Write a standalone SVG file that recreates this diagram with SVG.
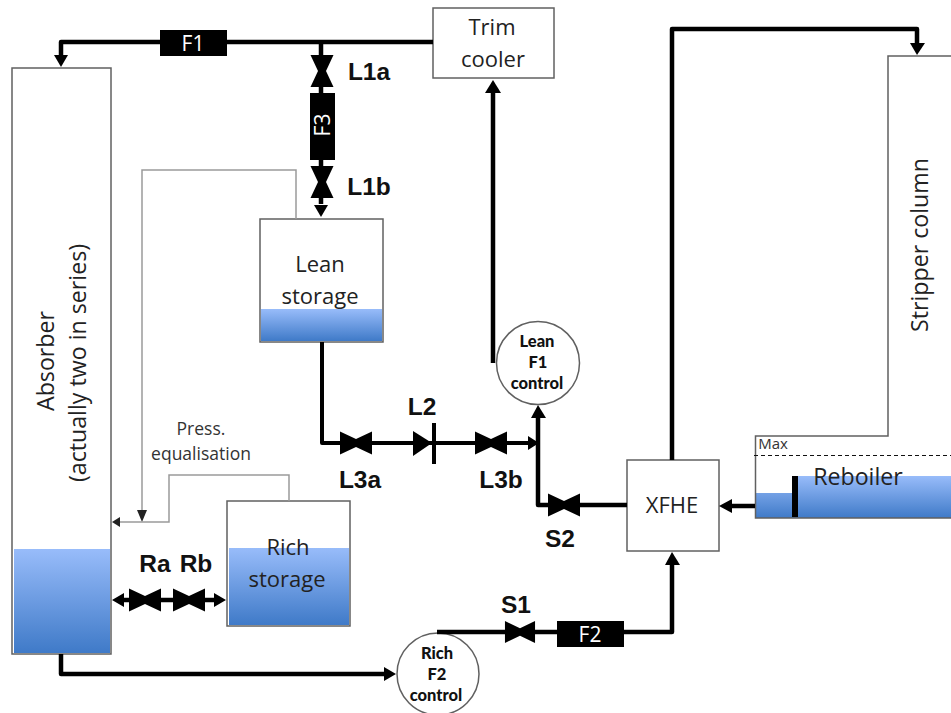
<svg xmlns="http://www.w3.org/2000/svg" width="951" height="713" viewBox="0 0 951 713">
<style>
.box{fill:#fff;stroke:#606060;stroke-width:1.5}
.pipe{fill:none;stroke:#000;stroke-width:4.5;stroke-linejoin:round}
.thin{fill:none;stroke:#9a9a9a;stroke-width:1.5}
.lbl{font-family:"Liberation Sans",Arial,sans-serif;font-weight:700;font-size:24.500px;fill:#111;text-anchor:middle}
.t{font-family:"Open Sans","Noto Sans",sans-serif;font-size:22px;fill:#222;text-anchor:middle}
.r{font-size:23.200px}
.s{font-family:"Open Sans","Noto Sans",sans-serif;font-size:17.500px;fill:#333;text-anchor:middle}
.c{font-family:"Lato","Noto Sans",sans-serif;font-weight:900;font-size:16.500px;fill:#111;text-anchor:middle}
.w{font-family:"Open Sans","Noto Sans",sans-serif;font-size:21px;fill:#fff;text-anchor:middle}
.liq{fill:url(#g)}
</style>
<defs>
<linearGradient id="g" x1="0" y1="0" x2="0" y2="1"><stop offset="0" stop-color="#98bcfa"/><stop offset="1" stop-color="#3f7ac8"/></linearGradient>
<path id="vh" d="M-16-11.500L0-4 16-11.500V11.500L0 4-16 11.500Z" fill="#000"/>
<path id="vv" d="M-11.500-16L-4 0-11.500 16H11.500L4 0 11.500-16Z" fill="#000"/>
</defs>
<g id="absorber"><rect class="box" x="12" y="68" width="99" height="586"/><rect class="liq" x="14" y="549" width="96" height="104"/><text class="t r" transform="translate(54 361) rotate(-90)">Absorber</text><text class="t r" transform="translate(86 363) rotate(-90)">(actually two in series)</text></g>
<g id="trim-cooler"><rect class="box" x="433" y="8" width="121" height="70"/><text class="t" x="492" y="35">Trim</text><text class="t" x="493" y="67">cooler</text></g>
<g id="lean-storage"><rect class="box" x="260" y="219" width="123" height="123"/><rect class="liq" x="261" y="309" width="121" height="32"/><text class="t" x="320" y="272">Lean</text><text class="t" x="320" y="304">storage</text></g>
<g id="rich-storage"><rect class="box" x="227" y="501" width="123" height="125"/><rect class="liq" x="229" y="548" width="120" height="77"/><text class="t" x="288" y="555">Rich</text><text class="t" x="287" y="587">storage</text></g>
<g id="lean-f1-control"><circle class="box" cx="538" cy="363" r="41.500"/><text class="c" x="537" y="347">Lean</text><text class="c" x="538" y="368">F1</text><text class="c" x="537" y="389">control</text></g>
<g id="rich-f2-control"><circle class="box" cx="438" cy="674" r="41"/><text class="c" x="437" y="659">Rich</text><text class="c" x="437" y="680">F2</text><text class="c" x="436" y="701">control</text></g>
<g id="xfhe"><rect class="box" x="627" y="460" width="92" height="91"/><text class="t" x="672" y="513">XFHE</text></g>
<g id="stripper"><path class="liq" d="M756 493H795V518H756ZM795 476H951V518H795Z"/><path fill="none" stroke="#606060" stroke-width="1.500" d="M951 56H888V436H755.500V518H951"/><rect x="792" y="476" width="6" height="41" fill="#000"/><path d="M754 455.500H951" stroke="#111" stroke-width="1" stroke-dasharray="4 3"/><text class="t r" transform="translate(928 245) rotate(-90)">Stripper column</text><text class="t r" x="858" y="485">Reboiler</text><text class="s" x="773" y="449" style="font-size:15px">Max</text></g>
<g id="connectors">
<path class="thin" d="M296 219V170H142V510"/>
<path d="M137 510H147L142 522Z" fill="#222"/>
<path class="thin" d="M289 501V475H169V522H120"/>
<path d="M120 517V527L112 522Z" fill="#222"/>
<path class="pipe" d="M433 42H61V56"/><path d="M54 55H68L61 67Z" fill="#000"/>
<path class="pipe" d="M321 42V204"/><path d="M314 205H328L321 217Z" fill="#000"/>
<path class="pipe" d="M493 363V92"/><path d="M485 93H501L493 80Z" fill="#000"/>
<path class="pipe" d="M322 342V443H530" style="stroke-width:4"/><path d="M528 436V450L539 443Z" fill="#000"/>
<path class="pipe" d="M627 505H538V417"/><path d="M531 418H546L538 405Z" fill="#000"/>
<path class="pipe" d="M672 460V29H917V44"/><path d="M910 43H925L917 55Z" fill="#000"/>
<path class="pipe" d="M755 506H730"/><path d="M732 499V513L719 506Z" fill="#000"/>
<path class="pipe" d="M437 632H672V564"/><path d="M665 565H680L672 552Z" fill="#000"/>
<path class="pipe" d="M61 654V674H386"/><path d="M384 667V681L396 674Z" fill="#000"/>
<path class="pipe" d="M122 600H216"/><path d="M124 593V607L112 600ZM214 593V607L226 600Z" fill="#000"/>
</g>
<g id="valve-l1a"><use href="#vv" x="322" y="71"/><text class="lbl" x="369" y="80">L1a</text></g>
<g id="flow-f3"><rect x="310" y="93" width="25" height="67" fill="#000"/><text class="w" transform="translate(330 125) rotate(-90)">F3</text></g>
<g id="valve-l1b"><use href="#vv" x="322" y="182"/><text class="lbl" x="369" y="195">L1b</text></g>
<g id="flow-f1"><rect x="160" y="30" width="67" height="26" fill="#000"/><text class="w" x="193" y="51">F1</text></g>
<g id="valve-l3a"><use href="#vh" x="356" y="443"/><text class="lbl" x="360" y="488">L3a</text></g>
<g id="valve-l2"><path d="M413 431L432 443 413 456Z" fill="#000"/><rect x="432" y="423" width="4" height="41" fill="#000"/><text class="lbl" x="422" y="415">L2</text></g>
<g id="valve-l3b"><use href="#vh" x="491" y="443"/><text class="lbl" x="501" y="488">L3b</text></g>
<g id="valve-s2"><use href="#vh" x="564" y="505"/><text class="lbl" x="560" y="547">S2</text></g>
<g id="valve-s1"><use href="#vh" x="520" y="632" transform="translate(520 632) scale(.94 .95) translate(-520 -632)"/><text class="lbl" x="516" y="613">S1</text></g>
<g id="flow-f2"><rect x="557" y="621" width="67" height="26" fill="#000"/><text class="w" x="590" y="642">F2</text></g>
<g id="valve-ra"><use href="#vh" x="145" y="600"/><text class="lbl" x="155" y="572">Ra</text></g>
<g id="valve-rb"><use href="#vh" x="189" y="600"/><text class="lbl" x="196" y="572">Rb</text></g>
<g id="press-label"><text class="s" x="201" y="435">Press.</text><text class="s" x="201" y="460">equalisation</text></g>
</svg>
